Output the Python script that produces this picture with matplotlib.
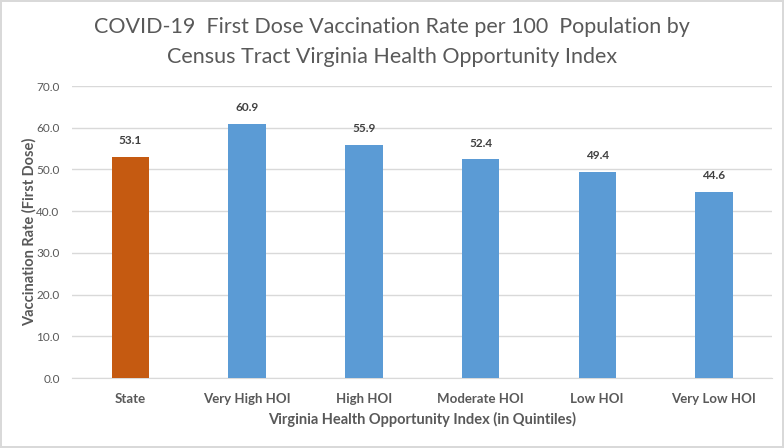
import matplotlib.pyplot as plt
import numpy as np

categories = ['State', 'Very High HOI', 'High HOI', 'Moderate HOI', 'Low HOI', 'Very Low HOI']
rates = [53.1, 60.9, 55.9, 52.4, 49.4, 44.6]
bar_colors = ['#C55A11', '#5B9BD5', '#5B9BD5', '#5B9BD5', '#5B9BD5', '#5B9BD5']

plt.rcParams['font.family'] = ['Lato', 'DejaVu Sans']

fig = plt.figure(figsize=(7.84, 4.48), dpi=100)
fig.patch.set_edgecolor('#D9D9D9')
fig.patch.set_linewidth(1.5)
ax = fig.add_axes([0.092, 0.156, 0.893, 0.652])

x = np.arange(len(categories))
ax.bar(x, rates, width=0.32, color=bar_colors, zorder=3)
for xi, v in zip(x, rates):
    ax.text(xi, v + 2.6, '%.1f' % v, ha='center', va='bottom', fontsize=8.5,
            fontweight='bold', color='#404040')

ax.set_xlim(-0.5, len(categories) - 0.5)
ax.set_ylim(0, 70)
ax.set_yticks(np.arange(0, 71, 10))
ax.set_yticklabels(['%.1f' % t for t in np.arange(0, 71, 10)])
ax.yaxis.grid(True, color='#D9D9D9', linewidth=1, zorder=0)
ax.set_xticks(x)
ax.set_xticklabels(categories, fontweight='bold', fontsize=9.5, color='#595959')
ax.tick_params(axis='y', labelsize=8.5, colors='#595959', length=0, pad=9)
ax.tick_params(axis='x', length=0, pad=11)
for s in ['top', 'right', 'left']:
    ax.spines[s].set_visible(False)
ax.spines['bottom'].set_color('#D9D9D9')

ax.set_xlabel('Virginia Health Opportunity Index (in Quintiles)', fontsize=10.5,
              fontweight='bold', color='#595959', labelpad=5)
ax.set_ylabel('Vaccination Rate (First Dose)', fontsize=10.5, fontweight='bold',
              color='#595959', labelpad=0)

fig.text(0.5, 0.94, 'COVID-19  First Dose Vaccination Rate per 100  Population by',
         ha='center', va='center', fontsize=15.5, color='#595959')
fig.text(0.5, 0.873, 'Census Tract Virginia Health Opportunity Index',
         ha='center', va='center', fontsize=15.5, color='#595959')

fig.savefig('out.png', dpi=100, edgecolor=fig.get_edgecolor())
